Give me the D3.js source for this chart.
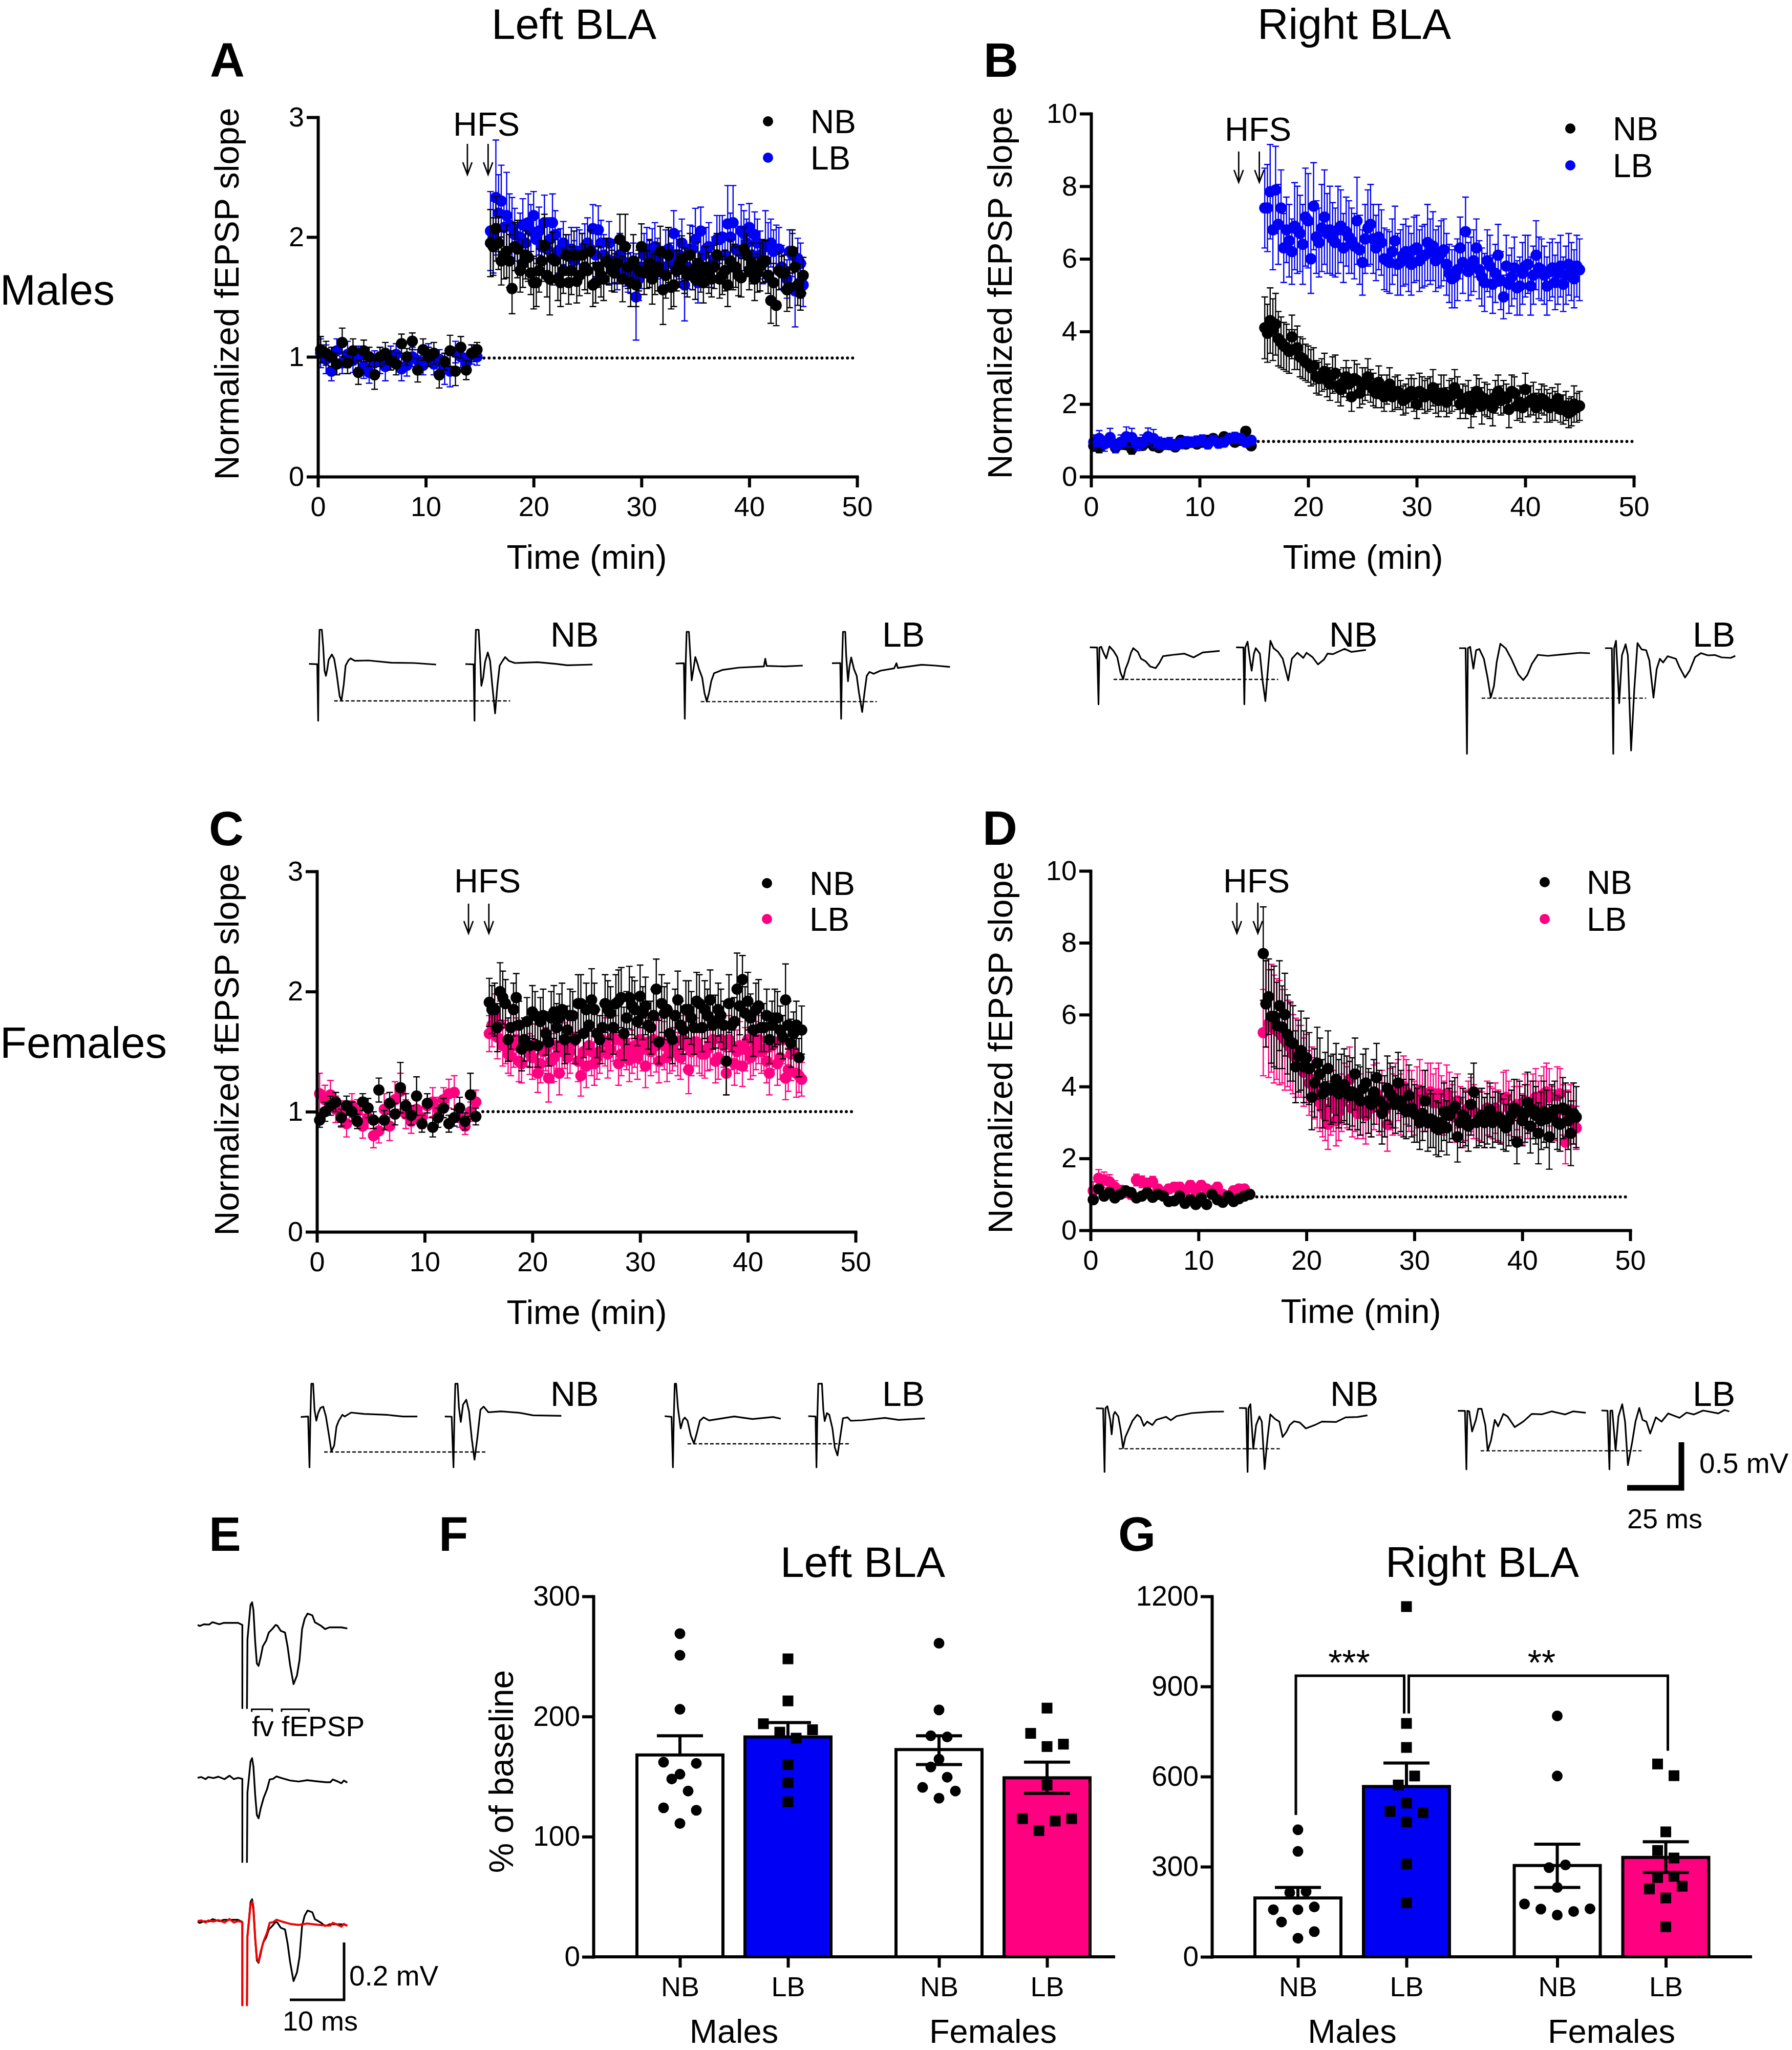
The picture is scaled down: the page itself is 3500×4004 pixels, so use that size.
<!DOCTYPE html>
<html>
<head>
<meta charset="utf-8">
<script src="https://cdn.jsdelivr.net/npm/d3@7"></script>
<style>
  body { margin: 0; background: #fff; }
  text { font-family: "Liberation Sans", Arial, sans-serif; fill: #000; }
</style>
</head>
<body>
<svg id="figure" width="3500" height="4004"></svg>
<script>
// sampling of the recordings (min)
const preTime = d3.range(0.25, 15, 0.5);
const postTime = d3.range(16, 45.01, 0.5);
const time = preTime.concat(postTime);
// in-between samples after HFS, kept in the *Mid arrays
const midTime = d3.range(16.25, 44.8, 0.5);
const timeTicks = [0, 10, 20, 30, 40, 50];

// Panel A, left BLA males
const aNB = [
  1.06,1.03,1.00,0.94,1.12,0.95,1.05,0.87,1.05,1.00,
  0.85,1.00,1.03,0.97,0.94,1.11,1.00,1.13,0.89,1.06,
  1.00,1.03,0.85,0.96,1.05,0.88,1.08,0.89,1.03,1.06,
  1.95,2.07,1.80,1.88,1.57,1.90,1.78,1.83,1.62,1.72,
  1.93,1.65,1.80,1.62,1.85,1.72,1.63,1.85,1.72,1.60,
  1.75,1.65,1.78,1.70,1.98,1.92,1.62,1.60,1.92,1.73,
  1.65,1.75,1.56,1.85,1.60,1.78,1.72,1.85,1.65,1.70,
  1.75,1.65,1.85,1.68,1.60,1.75,1.68,1.90,1.72,1.65,
  1.75,1.80,1.47,1.43,1.70,1.56,1.88,1.60,1.68];
const aNBsem = [
  .11,.10,.08,.09,.12,.09,.10,.10,.09,.08,
  .12,.08,.09,.08,.09,.08,.07,.07,.10,.09,
  .08,.09,.11,.07,.13,.12,.09,.08,.07,.06,
  .28,.27,.20,.22,.21,.24,.20,.20,.22,.18,
  .26,.30,.18,.20,.17,.20,.18,.18,.19,.18,
  .17,.18,.18,.16,.21,.27,.20,.18,.19,.16,
  .21,.20,.29,.23,.18,.20,.19,.18,.17,.16,
  .17,.15,.18,.16,.18,.19,.17,.18,.16,.18,
  .20,.17,.19,.17,.14,.18,.18,.17,.15];
const aNBMid = [
  1.92,1.95,1.85,1.80,1.92,1.72,1.85,1.70,1.62,1.80,
  1.68,1.82,1.65,1.72,1.62,1.85,1.68,1.75,1.88,1.62,
  1.68,1.80,1.72,1.78,1.65,1.75,1.80,1.72,1.70,1.78,
  1.70,1.88,1.68,1.58,1.72,1.82,1.68,1.72,1.78,1.62,
  1.70,1.75,1.65,1.72,1.80,1.75,1.66,1.85,1.78,1.70,
  1.80,1.68,1.62,1.72,1.70,1.58,1.75,1.53];
const aNBMidSem = [
  .24,.22,.20,.22,.20,.18,.20,.18,.20,.17,
  .18,.22,.18,.19,.18,.20,.17,.19,.18,.17,
  .18,.19,.17,.17,.19,.18,.22,.17,.18,.20,
  .18,.21,.19,.18,.17,.19,.18,.16,.18,.17,
  .17,.18,.16,.17,.18,.17,.16,.18,.17,.16,
  .18,.15,.16,.16,.15,.17,.16,.14];
const aLB = [
  1.03,0.98,0.88,1.05,0.95,1.02,0.97,1.00,0.92,0.87,
  0.95,0.97,0.92,0.99,1.02,0.90,0.93,1.00,0.97,0.93,
  1.02,0.94,0.98,0.90,0.88,1.04,1.00,0.95,1.02,1.00,
  2.05,2.33,2.30,2.18,2.08,1.92,2.10,2.12,2.18,2.05,
  2.12,1.98,2.02,1.90,1.85,1.90,1.88,1.85,1.95,2.07,
  2.06,1.85,1.95,1.80,1.85,1.75,1.70,1.50,1.75,1.90,
  1.88,1.82,1.75,1.90,2.03,1.85,1.60,1.90,1.98,2.05,
  1.90,1.75,1.98,2.00,2.11,2.12,1.88,2.03,2.08,2.02,
  1.85,1.92,1.95,1.90,1.75,1.65,1.85,1.82,1.60];
const aLBsem = [
  .12,.12,.08,.10,.09,.11,.10,.09,.10,.09,
  .10,.11,.12,.10,.09,.10,.09,.08,.09,.08,
  .09,.09,.08,.13,.13,.09,.09,.08,.08,.07,
  .33,.48,.30,.36,.25,.20,.22,.24,.20,.20,
  .23,.18,.20,.17,.17,.18,.20,.18,.21,.20,
  .20,.17,.18,.18,.18,.16,.17,.36,.18,.18,
  .19,.17,.17,.18,.19,.20,.30,.20,.26,.20,
  .18,.17,.20,.18,.32,.31,.18,.19,.20,.19,
  .20,.30,.20,.20,.18,.16,.18,.17,.18];
const aLBMid = [
  2.00,2.20,2.08,2.10,2.02,2.00,1.95,2.05,1.98,1.92,
  1.90,2.12,1.88,1.95,1.85,1.80,1.88,1.92,1.90,1.85,
  1.95,1.82,1.78,1.72,1.80,1.70,1.78,1.65,1.85,1.80,
  1.92,1.72,1.88,1.78,1.85,1.95,1.75,1.90,1.62,1.85,
  1.92,1.82,1.98,1.85,2.00,1.90,2.05,1.95,1.85,1.95,
  1.78,1.92,1.88,1.90,1.72,1.88,1.55,1.78];
const aLBMidSem = [
  .30,.32,.24,.26,.22,.20,.20,.22,.20,.18,
  .19,.24,.18,.18,.17,.17,.18,.19,.19,.18,
  .19,.17,.17,.16,.17,.16,.17,.18,.18,.17,
  .20,.17,.18,.17,.18,.20,.18,.19,.17,.18,
  .20,.18,.20,.18,.20,.19,.22,.20,.18,.20,
  .17,.20,.18,.18,.17,.18,.30,.17];

// Panel B, right BLA males
const bNB = [
  0.85,0.80,0.92,0.95,0.80,0.90,0.88,0.76,0.92,0.86,
  0.95,0.85,0.80,0.92,0.88,0.82,1.00,0.90,0.95,0.90,
  0.95,1.00,1.05,0.95,1.10,1.05,0.95,1.00,1.25,0.85,
  4.10,4.30,4.20,3.70,3.55,3.85,3.55,3.25,3.10,3.05,
  2.70,2.90,2.55,2.85,2.40,2.75,2.20,2.65,2.50,2.75,
  2.40,2.60,2.20,2.55,2.30,2.25,2.15,2.35,2.00,2.30,
  2.25,2.45,2.10,2.30,2.20,2.45,2.00,2.05,1.85,2.35,
  1.95,2.10,1.90,2.35,2.20,1.85,2.30,2.05,2.40,2.10,
  1.90,2.15,1.95,2.00,2.15,1.85,1.75,2.00,1.95];
const bNBsem = [
  .15,.14,.13,.13,.14,.13,.12,.14,.12,.12,
  .12,.12,.11,.11,.10,.11,.11,.10,.10,.10,
  .10,.11,.11,.10,.11,.10,.10,.09,.12,.10,
  .85,.90,.85,.70,.65,.60,.60,.55,.50,.50,
  .45,.50,.45,.50,.45,.45,.40,.45,.50,.50,
  .45,.45,.40,.45,.45,.40,.40,.45,.40,.45,
  .45,.50,.45,.50,.45,.50,.40,.45,.50,.45,
  .50,.45,.50,.45,.45,.50,.45,.45,.45,.40,
  .40,.40,.45,.45,.40,.40,.40,.50,.40];
const bNBMid = [
  3.95,4.05,3.80,3.60,3.45,3.50,3.30,3.15,3.00,2.75,
  2.80,2.65,2.80,2.50,2.60,2.55,2.70,2.30,2.55,2.50,
  2.30,2.35,2.40,2.20,2.35,2.10,2.30,2.25,2.35,2.20,
  2.30,2.15,2.30,2.05,2.25,2.30,2.15,2.20,2.05,2.25,
  2.15,2.00,2.20,2.10,2.15,2.35,1.95,1.90,2.05,2.15,
  2.00,2.10,1.90,1.95,1.85,1.95,1.80,1.90];
const bNBMidSem = [
  .80,.85,.75,.65,.60,.55,.55,.50,.50,.45,
  .45,.45,.50,.45,.40,.45,.50,.40,.45,.45,
  .40,.45,.40,.40,.45,.40,.40,.45,.50,.45,
  .45,.40,.50,.40,.45,.45,.40,.45,.40,.45,
  .45,.40,.45,.40,.40,.45,.40,.40,.40,.45,
  .40,.40,.40,.40,.35,.40,.40,.40];
const bLB = [
  0.95,1.05,0.90,1.08,0.85,0.95,1.10,1.08,0.90,0.95,
  1.10,1.05,0.92,0.90,0.92,0.88,0.92,0.95,0.95,0.98,
  1.00,0.90,1.00,0.92,0.95,1.05,1.08,1.05,0.95,1.00,
  7.40,7.85,7.90,7.40,6.80,6.20,6.80,6.40,7.05,7.45,
  6.45,7.15,6.80,6.45,6.90,6.75,6.50,7.05,5.90,6.85,
  6.55,6.60,6.00,5.90,6.50,5.90,6.20,5.85,6.30,6.05,
  6.45,6.35,6.05,6.25,5.60,5.50,6.30,6.75,5.80,6.30,
  5.50,5.95,5.30,6.10,4.95,5.30,5.75,5.25,5.80,5.25,
  6.10,5.70,5.25,5.75,5.60,5.30,5.85,5.45,5.70];
const bLBsem = [
  .20,.22,.20,.25,.18,.20,.27,.25,.18,.20,
  .24,.25,.17,.15,.16,.14,.15,.15,.14,.14,
  .15,.13,.14,.13,.13,.14,.14,.14,.12,.12,
  1.1,1.3,1.2,1.05,.90,.90,1.2,1.1,1.3,1.2,
  .95,1.3,1.2,.95,1.0,.95,.90,1.2,.90,1.05,
  .95,.90,.85,.85,.95,.90,.90,.85,.90,.85,
  1.05,.95,.85,.85,.80,.85,.85,.95,.80,.80,
  .80,.85,.80,.85,.60,.80,.85,.80,.85,.80,
  .95,.85,.80,.80,.85,.75,.85,.80,.85];
const bLBMid = [
  7.40,6.80,6.95,6.30,6.50,6.90,6.70,7.15,6.00,6.60,
  6.85,6.70,6.55,6.80,6.30,6.60,6.35,6.25,6.55,6.95,
  6.30,6.45,5.95,6.20,5.85,6.10,6.00,6.25,5.95,6.10,
  6.20,5.95,6.15,5.85,5.45,5.70,5.90,5.65,5.95,5.70,
  5.35,5.80,5.60,5.40,5.80,5.50,5.20,5.60,5.85,5.55,
  5.75,5.55,5.65,5.35,5.80,5.55,5.65,5.80];
const bLBMidSem = [
  1.2,1.1,1.1,.95,1.0,1.2,1.05,1.35,.95,1.0,
  1.2,1.1,1.0,1.2,.95,1.0,.90,.95,.95,1.1,
  .90,.90,.85,.90,.85,.85,.90,.90,.85,.85,
  .90,.85,.90,.85,.80,.85,.85,.80,.85,.80,
  .80,.85,.80,.80,.85,.80,.75,.85,.80,.80,
  .85,.80,.80,.75,.85,.80,.80,.85];

// Panel C, left BLA females
const cNB = [
  0.93,1.00,1.05,1.08,0.95,1.05,1.00,0.92,1.08,1.03,
  0.93,1.18,0.93,1.07,0.98,1.20,1.05,0.97,1.13,0.90,
  1.07,0.87,0.95,1.03,0.90,0.95,1.03,0.92,1.14,0.96,
  1.91,1.85,2.00,1.90,1.70,1.95,1.52,1.75,1.83,1.55,
  1.80,1.58,1.83,1.78,1.60,1.80,1.60,1.90,1.85,1.93,
  1.65,1.70,1.85,1.70,1.92,1.65,1.95,1.85,1.96,1.88,
  1.70,2.02,1.90,1.85,1.60,1.93,1.68,1.85,1.70,1.90,
  1.85,1.93,1.75,1.80,1.42,1.72,2.02,2.10,1.92,1.68,
  1.88,1.70,1.60,1.78,1.68,1.93,1.57,1.72,1.68];
const cNBsem = [
  .06,.08,.08,.08,.07,.08,.08,.06,.07,.08,
  .07,.10,.08,.09,.09,.21,.10,.08,.16,.07,
  .08,.08,.08,.08,.07,.07,.09,.07,.18,.07,
  .20,.22,.24,.20,.18,.20,.18,.20,.22,.18,
  .22,.20,.22,.20,.20,.22,.20,.24,.22,.26,
  .20,.20,.24,.22,.26,.22,.26,.24,.26,.24,
  .22,.25,.24,.22,.20,.24,.20,.24,.22,.24,
  .24,.25,.22,.22,.28,.22,.30,.20,.24,.22,
  .22,.20,.20,.24,.20,.30,.20,.20,.20];
const cNBMid = [
  1.85,1.70,1.95,1.60,1.85,1.72,1.60,1.55,1.80,1.75,
  1.65,1.78,1.70,1.85,1.68,1.80,1.90,1.65,1.72,1.85,
  1.60,1.90,1.82,1.90,1.95,1.78,1.88,1.75,1.82,1.72,
  1.80,1.58,1.82,1.65,1.80,1.72,1.85,1.78,1.92,1.70,
  1.80,1.72,1.85,1.72,1.90,1.75,1.88,1.82,1.78,1.85,
  1.70,1.80,1.72,1.78,1.62,1.72,1.65,1.45];
const cNBMidSem = [
  .20,.20,.22,.18,.22,.20,.18,.18,.20,.20,
  .18,.22,.20,.22,.20,.20,.24,.20,.20,.22,
  .20,.24,.22,.24,.25,.22,.24,.20,.22,.20,
  .22,.18,.22,.20,.22,.20,.24,.22,.24,.20,
  .22,.20,.22,.20,.24,.20,.24,.22,.20,.22,
  .20,.22,.20,.22,.18,.20,.18,.16];
const cLB = [
  1.15,1.10,1.14,1.02,0.98,0.90,1.05,1.00,0.88,0.95,
  0.80,0.84,1.02,0.88,1.10,1.17,0.98,0.92,1.02,0.95,
  1.05,1.08,1.02,1.10,1.15,1.16,0.95,0.88,1.00,1.08,
  1.65,1.80,1.72,1.58,1.46,1.60,1.40,1.55,1.45,1.32,
  1.50,1.28,1.45,1.32,1.55,1.50,1.62,1.30,1.38,1.50,
  1.45,1.60,1.48,1.62,1.40,1.58,1.43,1.55,1.60,1.38,
  1.50,1.55,1.58,1.45,1.52,1.48,1.60,1.35,1.58,1.52,
  1.48,1.55,1.42,1.60,1.32,1.55,1.50,1.38,1.60,1.48,
  1.60,1.52,1.32,1.58,1.45,1.28,1.48,1.32,1.27];
const cLBsem = [
  .17,.12,.12,.11,.11,.11,.10,.10,.10,.09,
  .10,.10,.13,.12,.15,.15,.12,.10,.10,.09,
  .10,.12,.10,.10,.12,.14,.08,.07,.08,.10,
  .15,.18,.20,.18,.16,.18,.16,.17,.18,.16,
  .18,.20,.20,.18,.19,.18,.18,.17,.18,.20,
  .18,.20,.20,.20,.18,.20,.18,.18,.20,.18,
  .20,.22,.20,.20,.18,.18,.20,.20,.20,.20,
  .20,.20,.18,.20,.18,.20,.18,.17,.20,.18,
  .20,.18,.18,.20,.18,.18,.22,.20,.14];
const cLBMid = [
  1.72,1.62,1.55,1.48,1.55,1.42,1.60,1.48,1.55,1.40,
  1.52,1.42,1.55,1.50,1.45,1.58,1.42,1.50,1.55,1.40,
  1.50,1.58,1.52,1.60,1.48,1.55,1.50,1.45,1.52,1.58,
  1.60,1.42,1.55,1.50,1.58,1.45,1.55,1.50,1.58,1.48,
  1.52,1.60,1.45,1.55,1.60,1.40,1.55,1.52,1.45,1.55,
  1.50,1.42,1.55,1.40,1.60,1.35,1.50,1.30];
const cLBMidSem = [
  .18,.18,.17,.16,.18,.17,.18,.17,.18,.16,
  .18,.18,.19,.18,.17,.18,.17,.18,.18,.18,
  .18,.20,.18,.20,.18,.20,.18,.18,.18,.20,
  .20,.18,.20,.18,.20,.18,.20,.20,.20,.18,
  .18,.20,.18,.18,.20,.18,.20,.18,.18,.20,
  .18,.18,.20,.18,.20,.18,.20,.14];

// Panel D, right BLA females
const dNB = [
  0.85,1.15,0.95,1.05,0.90,1.00,1.10,1.05,0.90,0.95,
  1.05,0.92,1.00,0.95,0.80,0.82,0.95,0.75,0.85,0.72,
  0.90,0.72,1.00,0.85,0.78,0.95,0.80,0.88,0.95,1.00,
  7.70,6.50,5.95,6.25,6.00,5.25,4.55,5.00,4.80,3.70,
  4.65,3.80,4.50,3.95,3.80,4.05,3.75,4.35,3.60,4.10,
  3.50,4.25,3.25,3.95,3.70,4.10,3.40,3.75,3.25,3.00,
  3.60,3.10,2.85,3.00,2.85,3.35,2.60,3.20,2.90,3.85,
  3.10,3.00,3.35,3.15,3.10,2.85,3.20,2.45,3.05,3.55,
  3.35,2.70,3.30,2.60,3.35,2.95,3.35,2.70,3.15];
const dNBsem = [
  .10,.10,.09,.10,.08,.10,.10,.09,.08,.08,
  .09,.08,.08,.08,.07,.08,.08,.08,.08,.08,
  .08,.08,.08,.08,.07,.08,.07,.07,.07,.06,
  1.3,1.05,1.4,1.25,1.15,1.1,1.0,1.1,1.1,.90,
  1.0,.95,1.05,.95,.95,1.0,.95,1.0,.95,.95,
  .90,.95,.85,.90,.85,.85,.80,.85,.80,.75,
  .85,.80,.75,.80,.75,.80,.70,.75,.70,.80,
  .75,.70,.75,.70,.70,.65,.70,.60,.70,.85,
  .80,.85,.85,.90,.80,.75,.75,.90,.85];
const dNBMid = [
  6.30,5.95,5.70,5.65,5.45,5.20,4.85,4.55,4.50,4.10,
  4.35,4.00,3.90,4.20,3.95,3.90,3.85,3.70,3.95,3.60,
  3.85,3.60,3.45,3.80,3.50,3.60,3.30,3.40,3.20,3.25,
  3.00,3.05,2.80,3.30,3.20,3.45,3.00,3.10,3.50,3.00,
  3.20,3.10,3.00,3.15,2.95,3.05,3.40,3.30,3.25,2.90,
  3.20,3.05,3.10,3.25,3.00,3.40,3.05,3.25];
const dNBMidSem = [
  1.2,1.3,1.2,1.15,1.1,1.05,1.0,1.0,1.0,.95,
  1.0,.95,.95,1.0,.95,.95,.95,.90,.95,.90,
  .90,.85,.85,.85,.80,.85,.75,.80,.75,.75,
  .80,.75,.75,.80,.75,.80,.70,.75,.85,.70,
  .75,.70,.70,.70,.70,.70,.80,.85,.80,.75,
  .80,.80,.80,.80,.75,.85,.80,.85];
const dLB = [
  1.10,1.45,1.40,1.35,1.20,1.10,1.05,1.00,1.40,1.35,
  1.30,1.35,1.15,1.05,1.15,1.20,1.20,1.10,1.25,1.10,
  1.25,1.15,1.10,1.20,1.00,0.90,1.10,1.15,1.15,1.00,
  5.50,5.75,5.60,5.50,5.30,5.10,4.80,4.70,4.50,4.20,
  3.70,3.40,2.95,3.60,3.30,3.80,4.20,3.60,3.50,3.20,
  3.40,3.80,3.60,2.95,3.50,3.90,4.00,3.60,3.40,3.90,
  3.60,3.85,3.70,3.50,3.80,3.30,3.60,3.00,3.40,3.30,
  3.20,3.00,3.30,3.40,3.10,3.70,3.20,3.50,3.10,3.30,
  3.60,3.40,3.80,3.70,3.20,3.80,2.45,3.35,2.85];
const dLBsem = [
  .25,.24,.22,.20,.18,.15,.14,.13,.16,.16,
  .15,.15,.12,.12,.13,.13,.13,.12,.13,.12,
  .13,.12,.12,.13,.11,.11,.12,.12,.12,.10,
  1.2,1.5,1.5,1.45,1.4,1.2,1.1,1.0,.95,.90,
  .85,.80,.70,.85,.80,.85,.90,.85,.85,.80,
  .80,.85,.85,.75,.85,.85,.85,.85,.75,.85,
  .85,.80,.80,.80,.80,.75,.75,.70,.75,.75,
  .70,.70,.70,.70,.65,.75,.70,.70,.70,.75,
  .75,.75,.75,.80,.70,.70,.60,.70,.60];
const dLBMid = [
  6.30,5.90,5.60,5.40,5.20,4.90,4.70,4.40,4.10,3.95,
  3.55,3.20,3.40,3.05,3.55,3.70,3.40,3.25,3.30,3.55,
  3.70,3.45,3.35,3.65,3.75,3.50,3.85,3.60,3.70,3.60,
  3.75,3.55,3.80,3.40,3.60,3.15,3.30,3.20,3.50,3.25,
  3.15,3.40,3.25,3.20,3.65,3.40,3.30,3.30,3.60,3.45,
  3.70,3.55,3.85,3.30,3.75,3.35,3.25,3.00];
const dLBMidSem = [
  1.2,1.5,1.4,1.3,1.2,1.1,1.0,.95,.90,.85,
  .80,.70,.75,.70,.80,.85,.80,.70,.75,.85,
  .90,.80,.75,.85,.90,.85,.90,.85,.85,.85,
  .90,.80,.85,.75,.80,.70,.70,.70,.75,.70,
  .70,.75,.70,.70,.75,.75,.70,.70,.75,.70,
  .80,.75,.80,.70,.80,.70,.65,.60];

// Panels F and G, categories and bars
const groups = ["Males", "Females"];
const conditions = ["NB", "LB"];
const barKeys = ["Males NB", "Males LB", "Females NB", "Females LB"];
const barColors = ["#ffffff", "#0000f5", "#ffffff", "#ff0080"];

const leftMean = [168, 183, 172.5, 149];
const leftErrTop = [184, 195, 184, 162];
const leftErrBottom = [168, 183, 160, 136];
const leftTicks = [0, 100, 200, 300];
const leftPoints = [
  [269, 251, 206, 162, 161, 152, 148, 138, 124, 122, 111],
  [248, 213, 194, 187, 189, 182, 160, 145, 129],
  [261, 205.5, 184, 183, 164.5, 158, 149.5, 141, 138, 132],
  [207, 186, 175, 177, 143, 115, 113, 115, 105]
];
// sideways slot of each point in the swarm
const leftSlots = [
  [0, 0, 0, -1, 1, 0, -0.5, 0.5, -1, 1, 0],
  [0, 0, -1.5, -0.5, 1.5, 0.5, 0, 0, 0],
  [0, 0, -0.5, 0.5, 0, -0.5, 0.5, -1, 1, 0],
  [0, -1, 0, 1, 0, -1.5, 0.5, 1.5, -0.5]
];

const rightMean = [196, 567, 304, 331];
const rightErrTop = [231, 645, 375, 383];
const rightErrBottom = [196, 567, 231, 281];
const rightTicks = [0, 300, 600, 900, 1200];
const rightPoints = [
  [423, 351, 214, 217, 157, 157, 166, 116, 84, 62],
  [1166, 777, 697, 602, 572, 512, 484, 480, 449, 309, 180],
  [802, 602, 297, 306, 231, 176, 159, 139, 151, 160],
  [642, 603, 416, 354, 329, 264, 268, 226, 235, 196, 100]
];
const rightSlots = [
  [0, 0, -0.5, 0.5, -1.5, 0, 1, -1, 1, 0],
  [0, 0, 0, 0.5, -0.5, 0, -1, 1, 0, 0, 0],
  [0, 0, -0.5, 0.5, 0, -2, -1, 0, 1, 2],
  [-0.5, 0.5, 0, -0.5, 0.5, -0.5, 0.5, -1, 1, 0, 0]
];
const bracketTop = 936;
const bracketEnds = [472, 810, 810, 686];

// example field potentials, digitised [time, voltage] in trace units
const traceANB1 = [[60,350],[78,352],[80,683],[81,352],[83,150],[88,150],[91,250],[94,390],[97,420],[100,380],[103,325],[110,295],[115,320],[120,400],[127,540],[131,565],[136,470],[140,360],[146,330],[151,318],[160,332],[190,330],[240,343],[290,345],[338,354]];
const traceANB2 = [[402,351],[420,353],[422,683],[423,352],[425,150],[431,150],[434,300],[437,478],[441,430],[445,340],[451,283],[456,330],[461,480],[467,640],[472,480],[477,360],[484,330],[489,310],[497,332],[510,345],[560,340],[600,350],[625,358],[680,354]];
const traceALB1 = [[862,348],[880,346],[882,672],[884,345],[886,162],[891,162],[894,300],[897,447],[901,380],[905,310],[910,350],[913,380],[920,430],[925,520],[930,570],[935,520],[940,450],[946,405],[965,385],[1000,372],[1055,365],[1058,320],[1061,362],[1100,365],[1140,360]];
const traceALB2 = [[1204,346],[1222,345],[1224,672],[1226,345],[1228,162],[1233,162],[1235,300],[1239,452],[1242,370],[1246,312],[1252,380],[1258,420],[1263,520],[1270,632],[1275,520],[1280,420],[1286,397],[1295,408],[1310,390],[1340,376],[1345,346],[1348,374],[1400,355],[1430,360],[1462,368]];
const dashesA = [[115,500,567],[917,1302,571]];

const traceBNB1 = [[88,253],[104,254],[107,587],[109,254],[113,250],[118,285],[124,318],[131,248],[140,275],[148,310],[155,400],[161,440],[166,380],[172,340],[178,285],[183,258],[193,280],[200,320],[210,335],[220,365],[232,375],[240,345],[248,305],[270,297],[295,290],[315,312],[335,283],[372,274]];
const traceBNB2 = [[408,253],[424,254],[426,587],[428,254],[433,220],[438,320],[442,390],[447,290],[451,258],[460,290],[466,450],[472,568],[477,400],[483,215],[490,258],[500,280],[510,320],[522,447],[530,320],[542,285],[555,315],[562,285],[575,310],[587,353],[600,325],[608,290],[620,293],[645,262],[660,280],[692,268]];
const traceBLB1 = [[896,258],[910,258],[913,877],[915,258],[920,250],[927,378],[933,270],[940,263],[950,320],[958,430],[965,548],[972,480],[978,340],[986,232],[998,260],[1010,320],[1025,410],[1036,445],[1045,415],[1055,350],[1068,297],[1090,303],[1120,295],[1160,285],[1182,288]];
const traceBLB2 = [[1215,258],[1230,258],[1233,877],[1235,258],[1239,215],[1246,580],[1252,300],[1260,235],[1265,300],[1272,858],[1279,500],[1286,228],[1295,265],[1305,270],[1312,330],[1321,548],[1328,380],[1335,320],[1342,342],[1352,305],[1370,320],[1378,370],[1390,430],[1400,390],[1412,310],[1425,287],[1440,300],[1455,298],[1470,312],[1490,315],[1500,303]];
const dashesB = [[140,500,441],[945,1305,551]];

const traceCNB1 = [[42,323],[58,320],[61,618],[63,320],[65,128],[69,128],[72,280],[76,345],[80,300],[85,270],[91,262],[97,320],[103,420],[109,525],[115,490],[120,380],[125,345],[133,310],[138,320],[152,297],[180,305],[230,310],[265,320],[297,320]];
const traceCNB2 = [[357,320],[372,321],[376,618],[378,320],[380,128],[385,128],[388,270],[392,352],[397,250],[404,222],[410,290],[416,450],[422,573],[428,450],[435,280],[442,262],[452,295],[480,290],[520,298],[550,313],[612,316]];
const traceCLB1 = [[838,318],[853,322],[856,618],[858,322],[860,128],[863,128],[867,270],[873,390],[878,340],[882,326],[888,345],[895,430],[902,478],[908,420],[915,345],[923,325],[935,343],[990,320],[1030,335],[1075,323],[1092,333]];
const traceCLB2 = [[1152,318],[1168,320],[1170,618],[1172,320],[1174,128],[1182,128],[1185,280],[1188,347],[1193,300],[1198,310],[1205,390],[1210,500],[1216,548],[1222,440],[1228,330],[1238,325],[1245,345],[1270,342],[1320,328],[1350,340],[1407,331]];
const dashesC = [[93,447,528],[888,1242,480]];

const traceDNB1 = [[98,272],[113,273],[116,645],[118,272],[122,260],[128,340],[131,425],[135,310],[138,293],[145,320],[150,400],[155,505],[160,440],[168,390],[175,345],[185,310],[192,325],[199,375],[206,350],[217,370],[225,340],[246,322],[256,342],[268,318],[300,300],[340,292],[368,291]];
const traceDNB2 = [[400,270],[415,271],[418,645],[420,271],[424,248],[430,510],[436,370],[443,320],[448,350],[454,628],[460,450],[466,308],[476,335],[485,350],[492,440],[500,410],[507,370],[516,348],[528,355],[541,390],[560,370],[575,350],[605,352],[625,325],[650,323],[671,313]];
const traceDLB1 = [[862,287],[877,287],[880,630],[882,287],[886,290],[892,408],[900,340],[905,275],[912,275],[920,370],[925,520],[932,460],[940,340],[947,378],[958,305],[967,320],[982,382],[1000,350],[1018,305],[1040,307],[1060,290],[1088,308],[1105,290],[1132,298]];
const traceDLB2 = [[1165,285],[1178,286],[1182,630],[1184,286],[1188,285],[1195,520],[1201,320],[1209,248],[1215,350],[1221,605],[1230,470],[1237,350],[1245,270],[1252,340],[1260,350],[1268,420],[1280,325],[1292,350],[1306,302],[1330,328],[1345,297],[1360,308],[1380,285],[1412,302],[1425,282],[1435,290]];
const dashesD = [[146,486,509],[910,1250,521]];

// panel E, null lifts the pen where the stimulus artifact is clipped
const traceEFull = [[108,333],[120,336],[145,331],[175,332],[195,325],[235,331],[260,327],[300,327],[345,327],[370,333],[370,577],null,[397,577],[400,375],[408,330],[418,275],[427,267],[435,290],[445,380],[455,445],[465,452],[478,425],[490,395],[510,378],[525,355],[545,345],[565,333],[575,335],[595,350],[620,355],[635,395],[650,450],[670,505],[690,480],[705,435],[720,345],[735,315],[752,300],[780,305],[795,325],[830,335],[855,345],[880,340],[920,340],[950,340],[985,343]];
const traceEBlock = [[108,777],[130,775],[155,781],[170,775],[200,778],[230,774],[265,781],[295,771],[320,781],[345,777],[370,780],[370,1024],null,[397,1024],[400,820],[408,780],[418,730],[427,720],[435,745],[445,825],[455,885],[465,895],[478,865],[495,835],[515,810],[530,782],[550,780],[570,773],[600,778],[650,785],[700,788],[750,784],[800,787],[860,790],[885,790],[900,782],[930,788],[950,793],[965,785],[985,791]];

const BLUE = "#0000f5", PINK = "#ff0080", RED = "#f00000";
const svg = d3.select("#figure");
svg.append("rect").attr("width", 3500).attr("height", 4004).attr("fill", "#fff");

function addText(str, x, y, size, opts = {}) {
  const t = svg.append("text")
    .attr("x", x).attr("y", y)
    .attr("font-size", size)
    .attr("font-weight", opts.bold ? "bold" : null)
    .attr("text-anchor", opts.anchor || "start")
    .text(str);
  if (opts.rotate) t.attr("transform", `rotate(-90 ${x} ${y})`);
  return t;
}

function styleAxis(g, size) {
  g.selectAll(".domain").attr("stroke", "#000").attr("stroke-width", 6).attr("stroke-linecap", "square");
  g.selectAll(".tick line").attr("stroke", "#000").attr("stroke-width", 6);
  g.selectAll(".tick text").attr("font-size", size).attr("font-family", '"Liberation Sans", Arial, sans-serif').attr("fill", "#000");
}

function drawArrow(x, y1, y2) {
  svg.append("path")
    .attr("d", `M${x},${y1}V${y2}M${x - 9},${y2 - 24}L${x},${y2}L${x + 9},${y2 - 24}`)
    .attr("fill", "none").attr("stroke", "#000").attr("stroke-width", 2.8);
}

function drawSeries(g, x, y, s) {
  const rows = s.values.map((v, i) => ({ t: time[i], v, e: s.sem[i] }))
    .concat(s.mid.map((v, i) => ({ t: midTime[i], v, e: s.midSem[i] })));
  const cap = 6.5;
  g.append("path")
    .attr("fill", "none").attr("stroke", s.color).attr("stroke-width", 2.4)
    .attr("d", rows.map(d => {
      const px = x(d.t), hi = y(d.v + d.e), lo = y(d.v - d.e);
      return `M${px},${hi}V${lo}M${px - cap},${hi}H${px + cap}M${px - cap},${lo}H${px + cap}`;
    }).join(""));
  g.selectAll(null).data(rows).enter().append("circle")
    .attr("cx", d => x(d.t)).attr("cy", d => y(d.v)).attr("r", 11).attr("fill", s.color);
}

function drawTimePanel(p) {
  const x = d3.scaleLinear().domain([0, 50]).range([p.x0, p.x1]);
  const y = d3.scaleLinear().domain([0, p.yMax]).range([p.y0, p.y1]);
  const g = svg.append("g");

  g.append("line")
    .attr("x1", x(15.4)).attr("x2", x(50)).attr("y1", y(p.dotted)).attr("y2", y(p.dotted))
    .attr("stroke", "#000").attr("stroke-width", 6)
    .attr("stroke-linecap", "round").attr("stroke-dasharray", "0 10");

  p.series.forEach(s => drawSeries(g, x, y, s));

  const yAxis = g.append("g").attr("transform", `translate(${p.x0},0)`)
    .call(d3.axisLeft(y).tickValues(p.yTicks).tickFormat(d3.format("d")).tickSize(22).tickSizeOuter(0).tickPadding(5));
  const xAxis = g.append("g").attr("transform", `translate(0,${p.y0})`)
    .call(d3.axisBottom(x).tickValues(timeTicks).tickFormat(d3.format("d")).tickSize(21).tickSizeOuter(0).tickPadding(18));
  styleAxis(yAxis, 54);
  styleAxis(xAxis, 54);

  addText("Normalized fEPSP slope", p.labelX, p.labelY, 66.5, { anchor: "middle", rotate: true });
  addText("Time (min)", p.timeX, p.timeY, 66, { anchor: "middle" });
  addText("HFS", p.hfsX, p.hfsY, 65, { anchor: "middle" });
  p.arrows.forEach(t => drawArrow(x(t), p.arrowY[0], p.arrowY[1]));

  p.series.forEach(s => {
    svg.append("circle").attr("cx", p.legX).attr("cy", s.legY).attr("r", 10).attr("fill", s.color);
    addText(s.name, p.legTextX, s.legY + 23, 64);
  });
  addText(p.letter, p.letterX, p.letterY, 94, { bold: true });
}

drawTimePanel({
  letter: "A", letterX: 410, letterY: 150,
  x0: 621, x1: 1674, y0: 931, y1: 229, yMax: 3, yTicks: [0, 1, 2, 3], dotted: 0.99,
  labelX: 466, labelY: 574, timeX: 1146, timeY: 1111,
  hfsX: 950, hfsY: 265, arrows: [13.86, 15.78], arrowY: [281, 341],
  legX: 1500, legTextX: 1583,
  series: [
    { name: "LB", values: aLB, sem: aLBsem, mid: aLBMid, midSem: aLBMidSem, color: BLUE, legY: 308 },
    { name: "NB", values: aNB, sem: aNBsem, mid: aNBMid, midSem: aNBMidSem, color: "#000", legY: 237 }
  ]
});
drawTimePanel({
  letter: "B", letterX: 1921, letterY: 150,
  x0: 2131, x1: 3191, y0: 931, y1: 222, yMax: 10, yTicks: [0, 2, 4, 6, 8, 10], dotted: 0.97,
  labelX: 1976, labelY: 572, timeX: 2662, timeY: 1111,
  hfsX: 2457, hfsY: 275, arrows: [13.6, 15.5], arrowY: [296, 356],
  legX: 3067, legTextX: 3150,
  series: [
    { name: "NB", values: bNB, sem: bNBsem, mid: bNBMid, midSem: bNBMidSem, color: "#000", legY: 251 },
    { name: "LB", values: bLB, sem: bLBsem, mid: bLBMid, midSem: bLBMidSem, color: BLUE, legY: 323 }
  ]
});
drawTimePanel({
  letter: "C", letterX: 408, letterY: 1651,
  x0: 619, x1: 1671, y0: 2406, y1: 1702, yMax: 3, yTicks: [0, 1, 2, 3], dotted: 1,
  labelX: 466, labelY: 2050, timeX: 1146, timeY: 2586,
  hfsX: 952, hfsY: 1743, arrows: [14.07, 15.96], arrowY: [1765, 1823],
  legX: 1498, legTextX: 1581,
  series: [
    { name: "LB", values: cLB, sem: cLBsem, mid: cLBMid, midSem: cLBMidSem, color: PINK, legY: 1795 },
    { name: "NB", values: cNB, sem: cNBsem, mid: cNBMid, midSem: cNBMidSem, color: "#000", legY: 1725 }
  ]
});
drawTimePanel({
  letter: "D", letterX: 1919, letterY: 1650,
  x0: 2130, x1: 3184, y0: 2403, y1: 1701, yMax: 10, yTicks: [0, 2, 4, 6, 8, 10], dotted: 0.93,
  labelX: 1977, labelY: 2046, timeX: 2658, timeY: 2584,
  hfsX: 2454, hfsY: 1743, arrows: [13.56, 15.5], arrowY: [1763, 1823],
  legX: 3017, legTextX: 3099,
  series: [
    { name: "LB", values: dLB, sem: dLBsem, mid: dLBMid, midSem: dLBMidSem, color: PINK, legY: 1795 },
    { name: "NB", values: dNB, sem: dNBsem, mid: dNBMid, midSem: dNBMidSem, color: "#000", legY: 1723 }
  ]
});

addText("Left BLA", 1121, 76, 84, { anchor: "middle" });
addText("Right BLA", 2645, 76, 84, { anchor: "middle" });
addText("Males", 0, 595, 84);
addText("Females", 0, 2066, 85);

// traces
const traceLine = (sx, sy) => d3.line().defined(d => d).x(d => sx(d[0])).y(d => sy(d[1]));

function drawTraces(traces, dashes, left, top, kx, ky) {
  const sx = d3.scaleLinear().domain([0, 1]).range([left, left + 1 / kx]);
  const sy = d3.scaleLinear().domain([0, 1]).range([top, top + 1 / ky]);
  const line = traceLine(sx, sy);
  traces.forEach(t => {
    svg.append("path").attr("d", line(t)).attr("fill", "none").attr("stroke", "#000")
      .attr("stroke-width", 3.2).attr("stroke-linejoin", "round");
  });
  dashes.forEach(d => {
    svg.append("line").attr("x1", sx(d[0])).attr("x2", sx(d[1])).attr("y1", sy(d[2])).attr("y2", sy(d[2]))
      .attr("stroke", "#000").attr("stroke-width", 2.4).attr("stroke-dasharray", "7 4");
  });
}

drawTraces([traceANB1, traceANB2, traceALB1, traceALB2], dashesA, 550, 1180, 1.12, 3);
drawTraces([traceBNB1, traceBNB2, traceBLB1, traceBLB2], dashesB, 2050, 1180, 1.12, 3);
drawTraces([traceCNB1, traceCNB2, traceCLB1, traceCLB2], dashesC, 550, 2660, 1.12, 3);
drawTraces([traceDNB1, traceDNB2, traceDLB1, traceDLB2], dashesD, 2050, 2660, 1.081, 3);

[[1075, 1263, "NB"], [1723, 1263, "LB"], [2596, 1263, "NB"], [3306, 1263, "LB"],
 [1075, 2746, "NB"], [1723, 2746, "LB"], [2598, 2746, "NB"], [3306, 2746, "LB"]]
  .forEach(d => addText(d[2], d[0], d[1], 68));

// scale bar, traces A-D
svg.append("path").attr("d", "M3284,2817V2906H3178").attr("fill", "none").attr("stroke", "#000").attr("stroke-width", 11);
addText("0.5 mV", 3319, 2877, 55);
addText("25 ms", 3178, 2985, 54);

// panel E
const eX = d3.scaleLinear().domain([0, 1]).range([350, 350 + 1 / 3]);
const eY = d3.scaleLinear().domain([0, 1]).range([2950, 2950 + 1 / 1.4877]);
const eLine = traceLine(eX, eY);
const addE = (data, dy, color, width) => svg.append("path").attr("d", eLine(data))
  .attr("transform", `translate(0,${dy})`)
  .attr("fill", "none").attr("stroke", color).attr("stroke-width", width).attr("stroke-linejoin", "round");
addE(traceEFull, 0, "#000", 3.4);
addE(traceEBlock, 0, "#000", 3.4);
addE(traceEFull, 580, "#000", 3.4);
addE(traceEBlock, 280, RED, 4);

[[425, 545], [600, 760]].forEach(b => {
  const yb = eY(578);
  svg.append("path")
    .attr("d", `M${eX(b[0])},${yb + 5}V${yb}H${eX(b[1])}V${yb + 5}`)
    .attr("fill", "none").attr("stroke", "#000").attr("stroke-width", 3);
});
addText("fv fEPSP", 492, 3391, 55);
svg.append("path").attr("d", "M672,3794V3906H566").attr("fill", "none").attr("stroke", "#000").attr("stroke-width", 5);
addText("0.2 mV", 682, 3878, 55);
addText("10 ms", 552, 3966, 54);
addText("E", 408, 3029, 94, { bold: true });

// bar panels F and G
function drawBarPanel(p) {
  const y = d3.scaleLinear().domain([0, p.yMax]).range([3822, 3118]);
  const outer = d3.scalePoint().domain(groups).range(p.groupRange);
  const inner = d3.scalePoint().domain(conditions).range([-p.halfStep, p.halfStep]);
  const keyX = k => outer(k.split(" ")[0]) + inner(k.split(" ")[1]);
  const x = d3.scaleOrdinal().domain(barKeys).range(barKeys.map(keyX));
  const g = svg.append("g");
  const barW = 168, capW = 45;

  barKeys.forEach((k, i) => {
    const cx = x(k);
    g.append("rect")
      .attr("x", cx - barW / 2).attr("width", barW)
      .attr("y", y(p.mean[i])).attr("height", y(0) - y(p.mean[i]))
      .attr("fill", barColors[i]).attr("stroke", "#000").attr("stroke-width", 6);
    const hi = y(p.errTop[i]), lo = y(p.errBottom[i]);
    g.append("path")
      .attr("d", `M${cx},${hi}V${lo}M${cx - capW},${hi}H${cx + capW}` + (p.errBottom[i] < p.mean[i] ? `M${cx - capW},${lo}H${cx + capW}` : ""))
      .attr("fill", "none").attr("stroke", "#000").attr("stroke-width", 6);
    p.points[i].forEach((v, j) => {
      const px = cx + p.slots[i][j] * 32;
      if (conditions[i % 2] === "NB") {
        g.append("circle").attr("cx", px).attr("cy", y(v)).attr("r", 10.5).attr("fill", "#000");
      } else {
        g.append("rect").attr("x", px - 10.5).attr("y", y(v) - 10.5).attr("width", 21).attr("height", 21).attr("fill", "#000");
      }
    });
  });

  const yAxis = g.append("g").attr("transform", `translate(${p.axisX},0)`)
    .call(d3.axisLeft(y).tickValues(p.ticks).tickFormat(d3.format("d")).tickSize(22).tickSizeOuter(0).tickPadding(4));
  const xAxis = g.append("g").attr("transform", `translate(0,3822)`)
    .call(d3.axisBottom(x).tickFormat(d => d.split(" ")[1]).tickSize(21).tickSizeOuter(0).tickPadding(18));
  xAxis.select(".domain").remove();
  g.append("line").attr("x1", p.axisX).attr("x2", p.axisEnd).attr("y1", 3822).attr("y2", 3822)
    .attr("stroke", "#000").attr("stroke-width", 6);
  styleAxis(yAxis, 55);
  styleAxis(xAxis, 54);
  xAxis.selectAll(".tick text").attr("text-anchor", "middle");

  groups.forEach(gr => addText(gr, outer(gr), 3990, 65, { anchor: "middle" }));
  addText(p.title, p.titleX, 3080, 84, { anchor: "middle" });
  addText(p.letter, p.letterX, 3029, 94, { bold: true });
  return { x, y };
}

drawBarPanel({
  letter: "F", letterX: 857, title: "Left BLA", titleX: 1685,
  yMax: 300, ticks: leftTicks, axisX: 1159, axisEnd: 2178,
  groupRange: [1433.5, 1939.5], halfStep: 105.5,
  mean: leftMean, errTop: leftErrTop, errBottom: leftErrBottom,
  points: leftPoints, slots: leftSlots
});
addText("% of baseline", 1002, 3460, 66, { anchor: "middle", rotate: true });

const rightScales = drawBarPanel({
  letter: "G", letterX: 2184, title: "Right BLA", titleX: 2895,
  yMax: 1200, ticks: rightTicks, axisX: 2367, axisEnd: 3422,
  groupRange: [2641, 3147.5], halfStep: 106,
  mean: rightMean, errTop: rightErrTop, errBottom: rightErrBottom,
  points: rightPoints, slots: rightSlots
});

// significance brackets
{
  const { x, y } = rightScales;
  const legs = [x("Males NB") - 4, x("Males LB") - 4.5, x("Males LB") + 4.5, x("Females LB") + 4];
  svg.append("path")
    .attr("d", `M${legs[0]},${y(bracketEnds[0])}V${y(bracketTop)}H${legs[1]}V${y(bracketEnds[1])}` +
      `M${legs[2]},${y(bracketEnds[2])}V${y(bracketTop)}H${legs[3]}V${y(bracketEnds[3])}`)
    .attr("fill", "none").attr("stroke", "#000").attr("stroke-width", 5);
  addText("***", 2635, 3272, 70, { anchor: "middle" });
  addText("**", 3011, 3272, 70, { anchor: "middle" });
}
</script>
</body>
</html>
